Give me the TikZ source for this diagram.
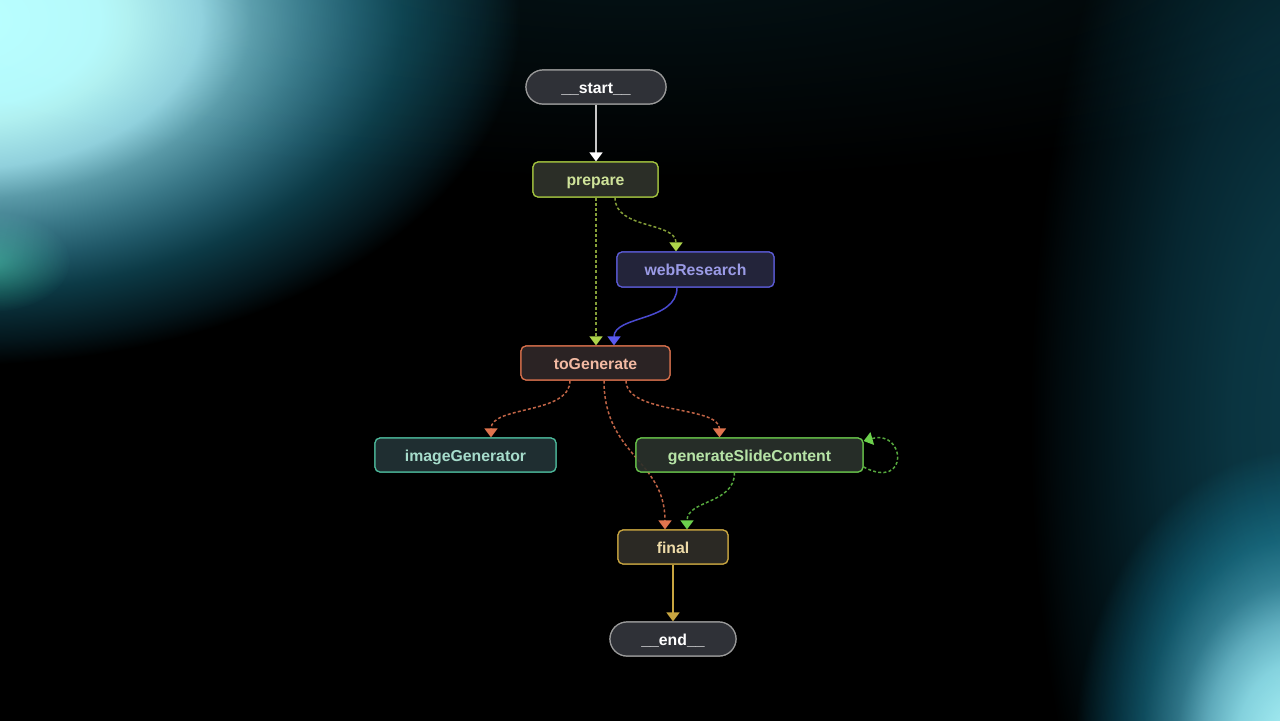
\documentclass[tikz,border=0pt]{standalone}
\usepackage{fontspec}
\setmainfont{Liberation Sans}
\usetikzlibrary{arrows.meta,calc}
\definecolor{gA0}{HTML}{B8FFFF}
\definecolor{gA1}{HTML}{B4F8FA}
\definecolor{gA2}{HTML}{B0F0F0}
\definecolor{gA3}{HTML}{90D0DC}
\definecolor{gA4}{HTML}{5A9AA8}
\definecolor{gA5}{HTML}{3A7888}
\definecolor{gA6}{HTML}{205868}
\definecolor{gA7}{HTML}{0C3A46}
\definecolor{gA8}{HTML}{04161C}
\definecolor{gB0}{HTML}{A8F0F4}
\definecolor{gB1}{HTML}{A0E8EE}
\definecolor{gB2}{HTML}{80C8D4}
\definecolor{gB3}{HTML}{5A9AAA}
\definecolor{gB4}{HTML}{2A6070}
\definecolor{gB5}{HTML}{0C3A48}
\definecolor{gB6}{HTML}{04202A}
\definecolor{gB7}{HTML}{010A0D}
\definecolor{gG0}{HTML}{1E6644}
\definecolor{gW0}{HTML}{0C3A48}
\definecolor{gW1}{HTML}{0A3440}
\definecolor{gW2}{HTML}{062630}
\definecolor{gW3}{HTML}{03161C}
\definecolor{gW4}{HTML}{010A0D}
\definecolor{gT0}{HTML}{041418}
\pgfdeclareradialshading{glowA}{\pgfpointorigin}{color(0bp)=(gA0); color(6.25bp)=(gA1); color(7.5bp)=(gA2); color(10.75bp)=(gA3); color(13bp)=(gA4); color(15.25bp)=(gA5); color(17.5bp)=(gA6); color(19.75bp)=(gA7); color(23.25bp)=(gA8); color(25bp)=(black); color(50bp)=(black)}
\pgfdeclareradialshading{glowB}{\pgfpointorigin}{color(0bp)=(gB0); color(2bp)=(gB1); color(7bp)=(gB2); color(10.5bp)=(gB3); color(13.75bp)=(gB4); color(17.5bp)=(gB5); color(20.75bp)=(gB6); color(23.75bp)=(gB7); color(25bp)=(black); color(50bp)=(black)}
\pgfdeclareradialshading{glowG}{\pgfpointorigin}{color(0bp)=(gG0); color(25bp)=(black); color(50bp)=(black)}
\pgfdeclareradialshading{glowW}{\pgfpointorigin}{color(0bp)=(gW0); color(7.5bp)=(gW1); color(13.75bp)=(gW2); color(18.75bp)=(gW3); color(22.5bp)=(gW4); color(25bp)=(black); color(50bp)=(black)}
\pgfdeclareradialshading{glowT}{\pgfpointorigin}{color(0bp)=(gT0); color(25bp)=(black); color(50bp)=(black)}
% node colours
\definecolor{pillfill}{HTML}{2F3137}
\definecolor{pilldraw}{HTML}{9A9A9A}
\definecolor{prepfill}{HTML}{2B2E27}
\definecolor{prepdraw}{HTML}{A3C43F}
\definecolor{preptext}{HTML}{CFE39A}
\definecolor{webfill}{HTML}{23243A}
\definecolor{webdraw}{HTML}{5B5BD6}
\definecolor{webtext}{HTML}{9B9BE6}
\definecolor{togfill}{HTML}{2B2324}
\definecolor{togdraw}{HTML}{D8704C}
\definecolor{togtext}{HTML}{F2B9A2}
\definecolor{imgfill}{HTML}{1F2E31}
\definecolor{imgdraw}{HTML}{4CB89A}
\definecolor{imgtext}{HTML}{A6DCCB}
\definecolor{gscfill}{HTML}{262D28}
\definecolor{gscdraw}{HTML}{67C24A}
\definecolor{gsctext}{HTML}{B6E3A6}
\definecolor{finfill}{HTML}{2B2924}
\definecolor{findraw}{HTML}{C8A540}
\definecolor{fintext}{HTML}{EEDBA8}
% edge colours
\definecolor{estart}{HTML}{C8C8C8}
\definecolor{eprep}{HTML}{849E38}
\definecolor{aprep}{HTML}{ADD44A}
\definecolor{eweb}{HTML}{4A4AD0}
\definecolor{aweb}{HTML}{5A5AF0}
\definecolor{etog}{HTML}{C06446}
\definecolor{atog}{HTML}{E0744E}
\definecolor{egsc}{HTML}{56A83E}
\definecolor{agsc}{HTML}{6CD04C}
\definecolor{efin}{HTML}{C8A540}
\tikzset{
  box/.style={draw, line width=0.6pt, rounded corners=2.5pt, minimum height=17pt, inner sep=0pt, text height=6.3pt, text depth=0pt, font=\bfseries\fontsize{7.9pt}{9pt}\selectfont},
  pill/.style={box, rounded corners=8.5pt, fill=pillfill, draw=pilldraw, text=white},
  edge/.style={line width=0.75pt},
  dsh/.style={edge, dash pattern=on 1.5pt off 1.1pt},
  tip/.style={-{Triangle[width=6.5pt,length=4.5pt,color=#1]}}
}
\begin{document}
\begin{tikzpicture}[x=0.5pt,y=-0.5pt]
\useasboundingbox (0,0) rectangle (1280,720);
\fill[black] (-10,-10) rectangle (1290,730);
\begin{scope}[blend mode=screen]
  \clip (-10,-10) rectangle (1290,730);
  \shade[shading=glowT] (640,-60) ellipse [x radius=900, y radius=240];
  \shade[shading=glowW] (1320,420) ellipse [x radius=290, y radius=720];
  \shade[shading=glowA] (-40,20) ellipse [x radius=560, y radius=345];
  \shade[shading=glowG] (-10,262) ellipse [x radius=80, y radius=50];
  \shade[shading=glowB] (1300,745) ellipse [x radius=225, y radius=295];
\end{scope}

% nodes (positions), edges, then nodes redrawn on top
\path
  node[pill, minimum width=70pt] (start) at (596,87) {\_\_start\_\_}
  node[box, minimum width=62.5pt, minimum height=17.5pt, fill=prepfill, draw=prepdraw, text=preptext] (prepare) at (595.5,179.5) {prepare}
  node[box, minimum width=78.5pt, minimum height=17.5pt, fill=webfill, draw=webdraw, text=webtext] (web) at (695.5,269.5) {webResearch}
  node[box, minimum width=74.5pt, fill=togfill, draw=togdraw, text=togtext] (tog) at (595.5,363) {toGenerate}
  node[box, minimum width=90.5pt, fill=imgfill, draw=imgdraw, text=imgtext] (img) at (465.5,455) {imageGenerator}
  node[box, minimum width=113.5pt, fill=gscfill, draw=gscdraw, text=gsctext] (gsc) at (749.5,455) {generateSlideContent}
  node[box, minimum width=55pt, fill=finfill, draw=findraw, text=fintext] (final) at (673,547) {final}
  node[pill, minimum width=63pt] (end) at (673,639) {\_\_end\_\_};

\draw[edge, draw=estart, tip=white] (start.south) -- (start.south |- prepare.north);
\draw[dsh, draw=eprep, tip=aprep] (start.south |- prepare.south) -- (start.south |- tog.north);
\draw[dsh, draw=eprep, tip=aprep] ([xshift=9.75pt]prepare.south) .. controls +(0,32) and +(0,-30) .. ([xshift=-9.75pt]web.north);
\draw[edge, draw=eweb, tip=aweb] ([xshift=-9.25pt]web.south) .. controls +(0,34) and +(0,-30) .. ([xshift=9.25pt]tog.north);
\draw[dsh, draw=etog, tip=atog] ([xshift=-12.75pt]tog.south) .. controls +(0,34) and +(0,-32) .. ([xshift=12.75pt]img.north);
\draw[dsh, draw=etog, tip=atog] ([xshift=15.25pt]tog.south) .. controls +(0,34) and +(0,-32) .. ([xshift=-15pt]gsc.north);
\draw[dsh, draw=etog, tip=atog] ([xshift=4.25pt]tog.south) .. controls +(0,75) and +(0,-70) .. ([xshift=-4pt]final.north);
\draw[dsh, draw=egsc, tip=agsc] ([xshift=-7.5pt]gsc.south) .. controls +(0,32) and +(0,-30) .. ([xshift=7pt]final.north);
\draw[dsh, draw=egsc, tip=agsc] ([yshift=-6pt]gsc.east) .. controls +(46,24) and +(42,-12) .. ([yshift=7pt]gsc.east);
\draw[edge, draw=efin, tip=efin] (final.south) -- (end.north);

\path
  node[pill, minimum width=70pt] at (start) {\_\_start\_\_}
  node[box, minimum width=62.5pt, minimum height=17.5pt, fill=prepfill, draw=prepdraw, text=preptext] at (prepare) {prepare}
  node[box, minimum width=78.5pt, minimum height=17.5pt, fill=webfill, draw=webdraw, text=webtext] at (web) {webResearch}
  node[box, minimum width=74.5pt, fill=togfill, draw=togdraw, text=togtext] at (tog) {toGenerate}
  node[box, minimum width=90.5pt, fill=imgfill, draw=imgdraw, text=imgtext] at (img) {imageGenerator}
  node[box, minimum width=113.5pt, fill=gscfill, fill opacity=0.88, text opacity=1, draw=gscdraw, text=gsctext] at (gsc) {generateSlideContent}
  node[box, minimum width=55pt, fill=finfill, draw=findraw, text=fintext] at (final) {final}
  node[pill, minimum width=63pt] at (end) {\_\_end\_\_};
\end{tikzpicture}
\end{document}
